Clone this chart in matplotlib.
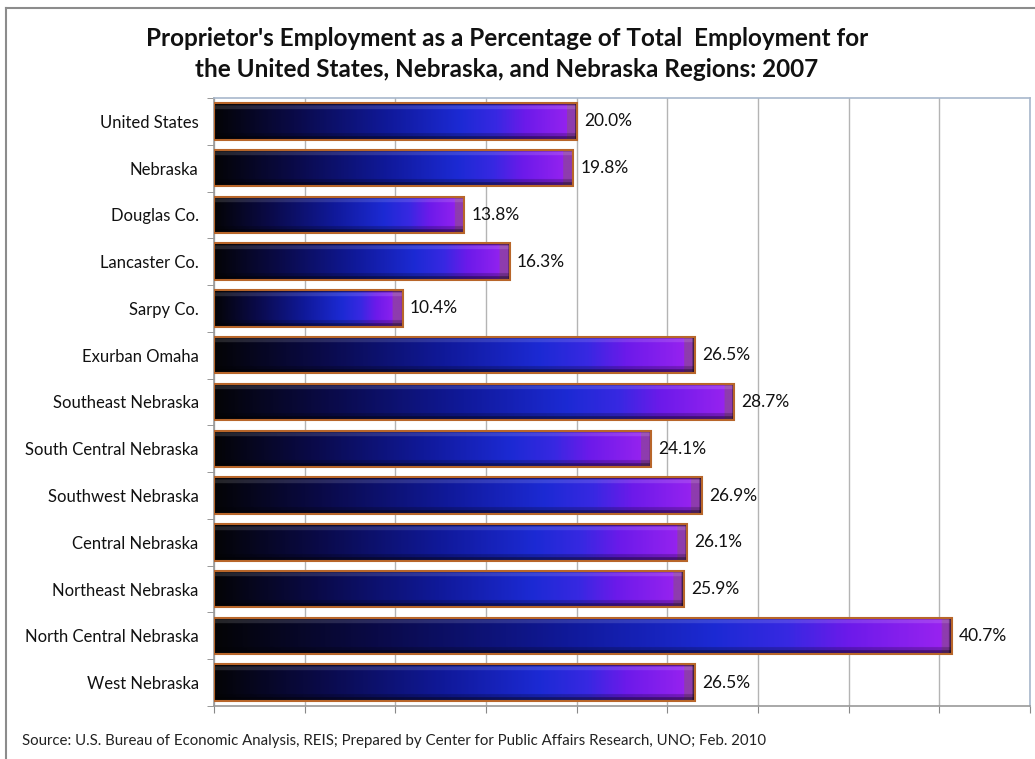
import numpy as np
import matplotlib
matplotlib.use("Agg")
import matplotlib.pyplot as plt
from matplotlib.colors import LinearSegmentedColormap, to_rgb
from matplotlib.lines import Line2D

categories = ["United States", "Nebraska", "Douglas Co.", "Lancaster Co.", "Sarpy Co.",
              "Exurban Omaha", "Southeast Nebraska", "South Central Nebraska",
              "Southwest Nebraska", "Central Nebraska", "Northeast Nebraska",
              "North Central Nebraska", "West Nebraska"]
values = [20.0, 19.8, 13.8, 16.3, 10.4, 26.5, 28.7, 24.1, 26.9, 26.1, 25.9, 40.7, 26.5]
value_labels = ["20.0%", "19.8%", "13.8%", "16.3%", "10.4%", "26.5%", "28.7%", "24.1%",
                "26.9%", "26.1%", "25.9%", "40.7%", "26.5%"]
title = ("Proprietor's Employment as a Percentage of Total  Employment for\n"
         "the United States, Nebraska, and Nebraska Regions: 2007")
source = ("Source: U.S. Bureau of Economic Analysis, REIS; Prepared by Center for "
          "Public Affairs Research, UNO; Feb. 2010")

plt.rcParams['font.family'] = ['Lato', 'DejaVu Sans']

fig = plt.figure(figsize=(10.35, 7.59), dpi=100)
ax = fig.add_axes([214/1035, 53/759, (1030-214)/1035, (706-98)/759])

xmax = 45
n = len(categories)
bar_h = 0.78
cmap = LinearSegmentedColormap.from_list("g", [
    (0.0, "#040406"), (0.22, "#0a0a48"), (0.48, "#10199a"),
    (0.68, "#1c2ad4"), (0.78, "#3828e2"), (0.86, "#6c1aea"), (1.0, "#9c24f0")])
cap_rgb = np.array(to_rgb("#8e3cae"))

W, H = 400, 48
xs = np.linspace(0, 1, W)
rows = np.linspace(0, 1, H)
shade = np.ones(H)
shade[rows < 0.05] = 0.6
highlight = np.zeros(H)
highlight[(rows >= 0.05) & (rows < 0.16)] = 0.13
shade[rows > 0.9] = 0.5
shade[(rows > 0.82) & (rows <= 0.9)] = 0.78

for i, v in enumerate(values):
    base = cmap(xs)[:, :3]
    cap_w = 0.55 / v
    capmask = xs > (1 - cap_w)
    base[capmask] = cap_rgb
    img = base[None, :, :] * shade[:, None, None]
    img = img + (1 - img) * highlight[:, None, None]
    img[:, xs > 0.996] *= 0.45
    img = np.clip(img, 0, 1)
    ax.imshow(img, extent=(0, v, i + bar_h/2, i - bar_h/2), aspect='auto',
              origin='upper', zorder=2, interpolation='bilinear')
    ax.text(v + 0.4, i, value_labels[i], va='center', ha='left', fontsize=12.5,
            color='#111111', zorder=4)

ax.barh(range(n), values, height=bar_h, facecolor='none', edgecolor='#b8662a',
        linewidth=1.5, zorder=3)

ax.set_xlim(0, xmax)
ax.set_ylim(n - 0.5, -0.5)

ax.set_xticks(np.arange(0, xmax + 1, 5))
ax.set_xticklabels([])
ax.tick_params(axis='x', length=5, color='#888888', direction='out')
ax.grid(axis='x', color='#b4b4b4', linewidth=1.0, zorder=0)
ax.set_axisbelow(True)

ax.set_yticks(range(n))
ax.set_yticklabels(categories, fontsize=12, color='#111111')
ax.tick_params(axis='y', length=0, pad=11)
ax.set_yticks(np.arange(-0.5, n, 1), minor=True)
ax.tick_params(axis='y', which='minor', length=5, color='#888888', direction='out')

for s in ['left', 'bottom']:
    ax.spines[s].set_color('#999999')
    ax.spines[s].set_linewidth(1.2)
for s in ['top', 'right']:
    ax.spines[s].set_color('#a8b8cc')
    ax.spines[s].set_linewidth(1.2)

fig.text(507/1035, 1 - 54/759, title, ha='center', va='center', fontsize=17.5,
         fontweight='bold', color='#111111', linespacing=1.45)
fig.text(22/1035, 1 - 741/759, source, ha='left', va='center', fontsize=10.8,
         color='#222222')

fig.add_artist(Line2D([6/1035, 1], [1 - 8/759, 1 - 8/759], transform=fig.transFigure,
                      color='#8c8c8c', linewidth=1.5))
fig.add_artist(Line2D([6/1035, 6/1035], [0, 1 - 8/759], transform=fig.transFigure,
                      color='#8c8c8c', linewidth=1.5))

fig.savefig("out.png", dpi=100)
